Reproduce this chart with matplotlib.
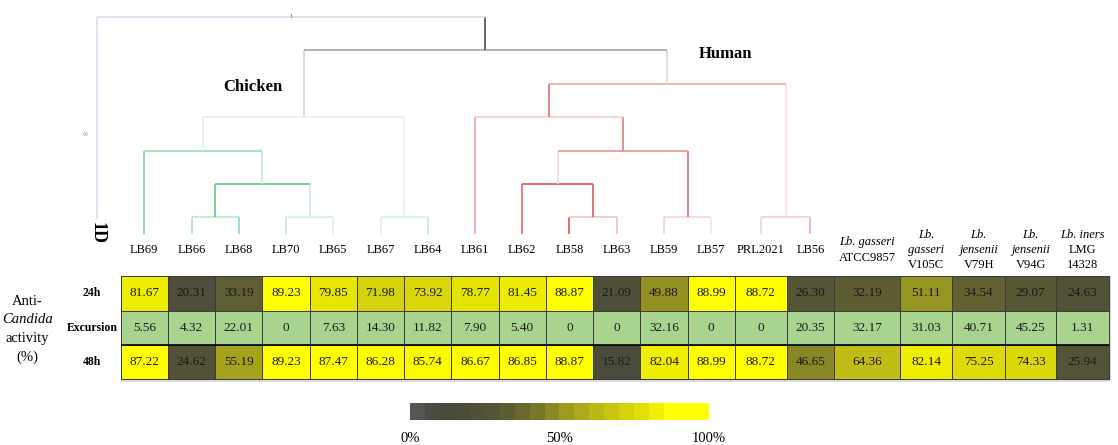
import numpy as np
import matplotlib
matplotlib.use("Agg")
import matplotlib.pyplot as plt
from matplotlib.colors import LinearSegmentedColormap, Normalize, to_rgba

plt.rcParams['font.family'] = ['Liberation Serif', 'DejaVu Serif']

# ---- data ----
strains = ["LB69", "LB66", "LB68", "LB70", "LB65", "LB67", "LB64", "LB61",
           "LB62", "LB58", "LB63", "LB59", "LB57", "PRL2021", "LB56"]
references = ["Lb. gasseri\nATCC9857", "Lb.\ngasseri\nV105C", "Lb.\njensenii\nV79H",
              "Lb.\njensenii\nV94G", "Lb. iners\nLMG\n14328"]
col_labels = strains + references

row_names = ["24h", "Excursion", "48h"]
act_24h = [81.67, 20.31, 33.19, 89.23, 79.85, 71.98, 73.92, 78.77, 81.45, 88.87,
           21.09, 49.88, 88.99, 88.72, 26.30, 32.19, 51.11, 34.54, 29.07, 24.63]
excursion = [5.56, 4.32, 22.01, 0, 7.63, 14.30, 11.82, 7.90, 5.40, 0,
             0, 32.16, 0, 0, 20.35, 32.17, 31.03, 40.71, 45.25, 1.31]
act_48h = [87.22, 24.62, 55.19, 89.23, 87.47, 86.28, 85.74, 86.67, 86.85, 88.87,
           15.82, 82.04, 88.99, 88.72, 46.65, 64.36, 82.14, 75.25, 74.33, 25.94]

# dendrogram: node 0 is the outgroup "1D", nodes 1..15 are the strains
tree_leaves = ["1D"] + strains
# (left child, right child, height); new nodes are numbered from 16 up
merges = [
    (2, 3, 0.5), (4, 5, 0.5), (6, 7, 0.5),          # 16 17 18
    (16, 17, 1.5), (1, 19, 2.5), (20, 18, 3.5),     # 19 20 21 (chicken)
    (10, 11, 0.5), (12, 13, 0.5), (14, 15, 0.5),    # 22 23 24
    (9, 22, 1.5), (25, 23, 2.5), (8, 26, 3.5),      # 25 26 27
    (27, 24, 4.5),                                  # 28 (human)
    (21, 28, 5.5), (0, 29, 6.5),                    # 29 30 (root)
]

# ---- styles ----
col_widths = [1] * 13 + [1.1, 1.0, 1.4, 1.1, 1.12, 1.08, 1.12]
stem_colors = {
    0: '#e3daf0', 1: '#86d9a4', 2: '#a4e6bd', 3: '#8cdead', 4: '#c4eed5',
    5: '#dcf4e6', 6: '#dcf4e6', 7: '#bcecd0', 8: '#f0a0a0', 9: '#e66a6a',
    10: '#d65656', 11: '#f3c0c0', 12: '#f6d0d0', 13: '#fbe3e3', 14: '#f6d4d4',
    15: '#eeaaaa', 16: '#56cc84', 17: '#cdf0dc', 18: '#e0f4e9', 19: '#c4eed5',
    20: '#dcf2e5', 21: '#d4d4d4', 22: '#d65c5c', 23: '#da7474', 24: '#fae0e0',
    25: '#fadcdc', 26: '#e28080', 27: '#de6c6c', 28: '#d9d9d9', 29: '#505050',
    30: '#999999',
}
bar_colors = {
    16: '#b4eacc', 17: '#cdf0dc', 18: '#d4f2e1', 19: '#56cc84', 20: '#94e0b2',
    21: '#dcf3e7', 22: '#f3c4c4', 23: '#f8d8d8', 24: '#f6cccc', 25: '#de5454',
    26: '#e69696', 27: '#f6cccc', 28: '#f0a4a4', 29: '#a6a6a6',
    30: ('#e3daf0', '#dedede'),
}
cmap_vals = [0, 10, 20, 30, 40, 50, 60, 70, 80, 87, 100]
cmap_cols = ['#5a5a5a', '#48483e', '#4e4e3a', '#585735', '#706e2c', '#949222',
             '#b4b21a', '#cfcc10', '#e8e600', '#ffff00', '#ffff00']
cmap = LinearSegmentedColormap.from_list(
    'grey_yellow', list(zip(np.array(cmap_vals) / 100, cmap_cols)))
norm = Normalize(0, 100)
excursion_color = '#a8d490'

W, H = 1118, 445


def px_box(left, top, right, bottom):
    return [left / W, 1 - bottom / H, (right - left) / W, (bottom - top) / H]


fig = plt.figure(figsize=(W / 100, H / 100), dpi=100)

# ---- heatmap ----
ax_h = fig.add_axes(px_box(120.7, 276.4, 1109, 379))
edges = np.concatenate([[0], np.cumsum(col_widths)])
centers = (edges[:-1] + edges[1:]) / 2
n = len(col_labels)
rgba = np.zeros((3, n, 4))
rgba[0] = cmap(norm(np.array(act_24h)))
rgba[1] = to_rgba(excursion_color)
rgba[2] = cmap(norm(np.array(act_48h)))
mesh = ax_h.pcolormesh(edges, np.arange(4), rgba, edgecolors='#3c3c3c',
                       linewidth=0.7)
mesh.set_clip_on(False)
ax_h.plot([edges[0], edges[-1]], [2, 2], color='black', lw=1.2)
# faint shadow on the right and bottom edges
ax_h.plot([edges[0] + 0.02, edges[-1] + 0.03, edges[-1] + 0.03],
          [3.05, 3.05, 0.03], color='#d4d4d4', lw=1.2, clip_on=False, zorder=0)
ax_h.set_xlim(edges[0], edges[-1])
ax_h.set_ylim(3, 0)
ax_h.set_axis_off()

for r, row in enumerate([act_24h, excursion, act_48h]):
    for j, v in enumerate(row):
        txt = '0' if v == 0 else f'{v:.2f}'
        ax_h.text(centers[j], r + 0.5, txt, ha='center', va='center',
                  fontsize=9.5, color='#1a1a1a')
    ax_h.text(-0.61, r + 0.5, row_names[r], ha='center', va='center',
              fontsize=8.5, fontweight='bold')

side_lines = [("Anti-", 'normal'), ("Candida", 'italic'),
              ("activity", 'normal'), ("(%)", 'normal')]
for k, (line, st) in enumerate(side_lines):
    ax_h.annotate(line, xy=(-1.98, 1.5), xytext=(0, -(k - 1.5) * 13.3 - 1),
                  textcoords='offset points', ha='center', va='center',
                  fontsize=10.5, style=st, annotation_clip=False)

# ---- dendrogram ----
ax_d = fig.add_axes(px_box(120.7, 234 - 6.7 * 33.38, 1109, 234))
ax_d.set_xlim(edges[0], edges[-1])
ax_d.set_ylim(0, 6.7)
ax_d.set_axis_off()

node_x = {0: centers[0] - col_widths[0]}
node_y = {0: 0.0}
for i in range(1, len(tree_leaves)):
    node_x[i] = centers[i - 1]
    node_y[i] = 0.0
base = {i: 0.0 for i in range(len(tree_leaves))}
base[0] = 0.45

lw = 1.2
for m, (a, b, h) in enumerate(merges, start=len(tree_leaves)):
    node_x[m] = (node_x[a] + node_x[b]) / 2
    node_y[m] = h
    for c in (a, b):
        y0 = base.get(c, node_y[c])
        ax_d.plot([node_x[c], node_x[c]], [y0, h], color=stem_colors[c],
                  lw=lw, solid_capstyle='butt', clip_on=False)
    bc = bar_colors[m]
    if isinstance(bc, str):
        bc = (bc, bc)
    ax_d.plot([node_x[a], node_x[m]], [h, h], color=bc[0], lw=lw,
              solid_capstyle='butt', clip_on=False)
    ax_d.plot([node_x[m], node_x[b]], [h, h], color=bc[1], lw=lw,
              solid_capstyle='butt', clip_on=False)

root = len(tree_leaves) + len(merges) - 1
ax_d.plot([node_x[root]] * 2, [node_y[root], node_y[root] + 0.08],
          color=stem_colors[root], lw=0.8)

ax_d.text(node_x[0], 0.35, tree_leaves[0], rotation=270, ha='center', va='top',
          fontsize=13, fontweight='bold', clip_on=False)
ax_d.text(-0.755, 2.97, '\u221e', ha='center', va='center', fontsize=5,
          color='#888888', clip_on=False)
ax_d.text(2.8, 4.39, 'Chicken', ha='center', va='center', fontsize=12,
          fontweight='bold')
ax_d.text(12.81, 5.40, 'Human', ha='center', va='center', fontsize=12,
          fontweight='bold')

# column labels
for j, label in enumerate(col_labels):
    lines = label.split('\n')
    nl = len(lines)
    for k, line in enumerate(lines):
        it = line.startswith('Lb.') or line.islower()
        ax_d.annotate(line, xy=(centers[j], -0.48),
                      xytext=(0, ((nl - 1) / 2 - k) * 11.0),
                      textcoords='offset points', ha='center', va='center',
                      fontsize=9, style='italic' if it else 'normal',
                      annotation_clip=False)

# ---- colour scale ----
ax_c = fig.add_axes(px_box(410, 403, 709, 420))
steps = np.linspace(2.5, 97.5, 20)
ax_c.imshow(steps[None, :], cmap=cmap, norm=norm, aspect='auto',
            extent=(0, 100, 0, 1))
ax_c.set_xticks([0, 50, 100])
ax_c.set_xticklabels(['0%', '50%', '100%'], fontsize=10.5)
ax_c.tick_params(length=0, pad=9)
ax_c.set_yticks([])
for s in ax_c.spines.values():
    s.set_visible(False)

fig.savefig('out.png', dpi=100)
